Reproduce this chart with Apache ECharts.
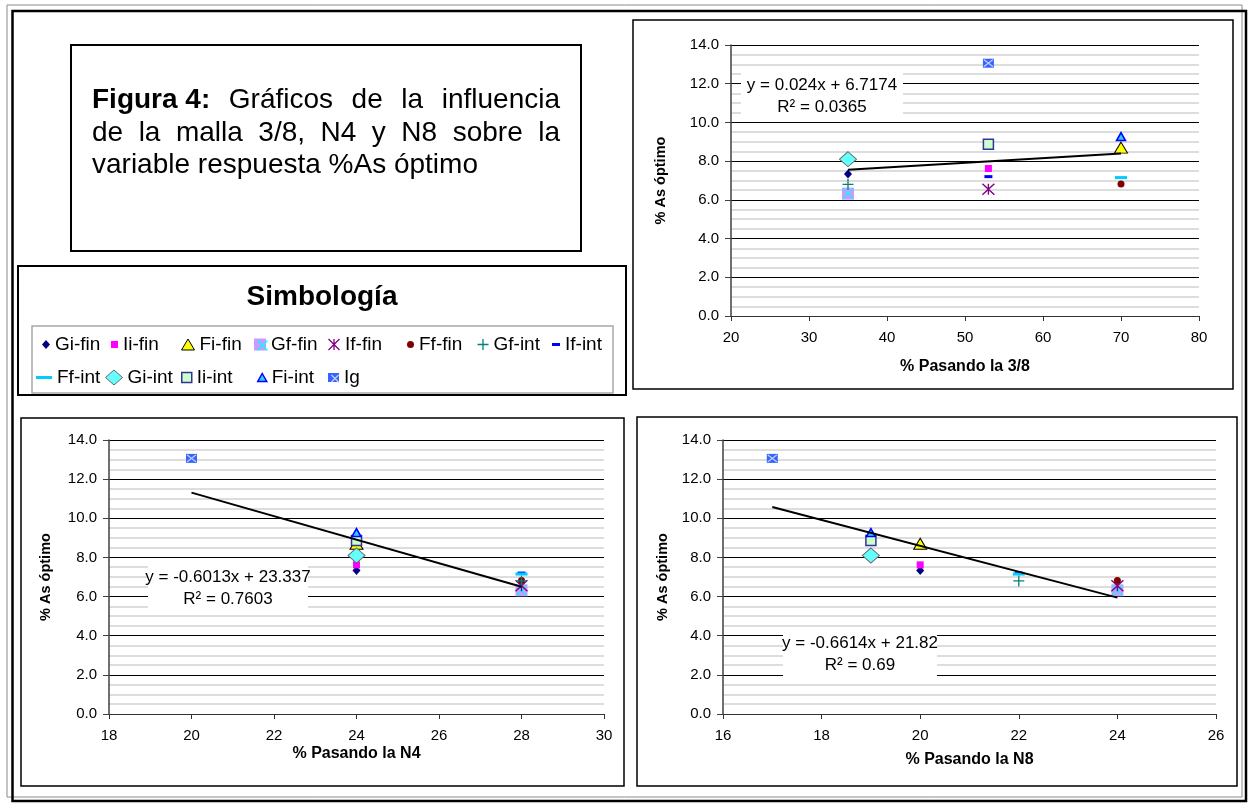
<!DOCTYPE html>
<html>
<head>
<meta charset="utf-8">
<title>Figura 4</title>
<script src="https://cdn.jsdelivr.net/npm/echarts@6/dist/echarts.min.js"></script>
<style>
html,body{margin:0;padding:0;background:#fff}
#main{width:1249px;height:804px}
</style>
</head>
<body>
<div id="main"></div>
<script>
// muestras (una serie por muestra)
var nombres = ['Gi-fin','Ii-fin','Fi-fin','Gf-fin','If-fin','Ff-fin','Gf-int','If-int','Ff-int','Gi-int','Ii-int','Fi-int','Ig'];
// % pasando cada malla
var pasa38 = [35,53,70,35,53,70,35,53,70,35,53,70,53];
var pasaN4 = [24,24,24,28,28,28,28,28,28,24,24,24,20];
var pasaN8 = [20,20,20,24,24,24,22,22,22,19,19,19,17];
// % As optimo
var asOptimo = [7.33,7.62,8.7,6.32,6.55,6.82,6.8,7.2,7.15,8.1,8.87,9.27,13.06];
// lineas de tendencia de cada grafico
var pendientes = [0.024,-0.6013,-0.6614];
var interceptos = [6.7174,23.337,21.82];
var r2 = [0.0365,0.7603,0.69];
// ejes
var xMin = [20,18,16];
var xMax = [80,30,26];
var xPaso = [10,2,2];
var xNombres = ['% Pasando la 3/8','% Pasando la N4','% Pasando la N8'];
var yNombre = '% As óptimo';

var fuente = '"Liberation Sans", Arial, sans-serif';
var pasas = [pasa38,pasaN4,pasaN8];
var simboloX = 'path://M0,0L10,10M10,0L0,10';

//estilo de cada marcador
var estilos = [
    {symbol:'diamond', size:[8,9], color:'#000080'},
    {symbol:'rect', size:[7,7], color:'#FF00FF'},
    {symbol:'triangle', size:[13,11], color:'#FFFF00', border:'#000', bw:1},
    {symbol:'rect', size:[12,12], color:'#CC99FF', cruz:'#00FFFF'},
    {symbol:'path://M0,0L10,10M10,0L0,10M5,0L5,10', size:[12,11], color:'none', border:'#800080', bw:1.3},
    {symbol:'circle', size:[7,7], color:'#800000'},
    {symbol:'path://M5,0L5,10M0,5L10,5', size:[11,11], color:'none', border:'#008080', bw:1.3},
    {symbol:'rect', size:[8,3], color:'#0000FF'},
    {symbol:'rect', size:[12,3], color:'#00CCFF', leg:[16,3]},
    {symbol:'diamond', size:[17,15], color:'#66FFFF', border:'#666', bw:1},
    {symbol:'rect', size:[10,10], color:'#CCFFCC', border:'#333399', bw:1.5},
    {symbol:'triangle', size:[9,8], color:'#33CCFF', border:'#0000FF', bw:1.5},
    {symbol:'rect', size:[11,9], color:'#3366FF', cruz:'#CCCCFF'}
];

var grids = [
    {left:731, top:45, width:468, height:271},
    {left:109, top:440, width:495, height:274},
    {left:723, top:440, width:493, height:274}
];
var xNameGap = [43,32,38];
var yNameGap = [63,56,53];

var xAxes = [], yAxes = [], series = [];
for (var g=0; g<3; g++){
    xAxes.push({
        gridIndex:g, type:'value', min:xMin[g], max:xMax[g], interval:xPaso[g],
        name:xNombres[g], nameLocation:'middle', nameGap:xNameGap[g],
        nameTextStyle:{fontWeight:'bold', fontSize:16, color:'#000', fontFamily:fuente},
        axisLine:{onZero:false, lineStyle:{color:'#333', width:1}},
        axisTick:{show:true, length:5, lineStyle:{color:'#333'}},
        axisLabel:{fontSize:15, color:'#000', margin:14, fontFamily:fuente},
        splitLine:{show:false}
    });
    yAxes.push({
        gridIndex:g, type:'value', min:0, max:14, interval:2,
        name:yNombre, nameLocation:'middle', nameGap:yNameGap[g], nameRotate:90,
        nameTextStyle:{fontWeight:'bold', fontSize:14.5, color:'#000', fontFamily:fuente},
        axisLine:{show:true, onZero:false, lineStyle:{color:'#404040', width:1.5}},
        axisTick:{show:true, length:6, lineStyle:{color:'#404040'}},
        axisLabel:{fontSize:15, color:'#000', margin:12, fontFamily:fuente, formatter:function(v){return v.toFixed(1)}},
        splitLine:{show:true, lineStyle:{color:'#000', width:1}},
        minorTick:{show:false, splitNumber:4},
        minorSplitLine:{show:true, lineStyle:{color:'#d2d2d2', width:1.5}}
    });
    for (var i=0;i<nombres.length;i++){
        var e = estilos[i];
        var punto = [[pasas[g][i], asOptimo[i]]];
        series.push({
            type:'scatter', name:nombres[i], xAxisIndex:g, yAxisIndex:g,
            symbol:e.symbol, symbolSize:e.size, silent:true,
            itemStyle:{color:e.color, borderColor:e.border||'transparent', borderWidth:e.bw||0, opacity:1},
            data:punto
        });
        if (e.cruz){
            series.push({
                type:'scatter', name:nombres[i]+' x', xAxisIndex:g, yAxisIndex:g,
                symbol:simboloX, symbolSize:[e.size[0]-2,e.size[1]-2], silent:true,
                itemStyle:{color:'none', borderColor:e.cruz, borderWidth:1.3, opacity:1},
                data:punto
            });
        }
    }
    // tendencia lineal
    var x1 = Math.min.apply(null,pasas[g]), x2 = Math.max.apply(null,pasas[g]);
    series.push({
        type:'line', name:'tendencia', xAxisIndex:g, yAxisIndex:g, symbol:'none', silent:true, z:3,
        lineStyle:{color:'#000', width:2},
        data:[[x1, pendientes[g]*x1+interceptos[g]],[x2, pendientes[g]*x2+interceptos[g]]]
    });
}

// leyenda (simbologia)
var legX = [55,123,199,271,343,419,491,565, 57,127,196,271,344];
var legFila = [0,0,0,0,0,0,0,0,1,1,1,1,1];
var filaY = [343,376];
var legendas = [];
nombres.forEach(function(n,i){
    var e = estilos[i];
    var s = e.leg || e.size;
    var izq = legX[i]-5-s[0];
    legendas.push({
        data:[{name:n, icon:e.symbol, itemStyle:{color:e.color, borderColor:e.border||'transparent', borderWidth:e.bw||0}}],
        left:izq, top:filaY[legFila[i]]-8, itemWidth:s[0], itemHeight:s[1],
        padding:0, selectedMode:false,
        textStyle:{fontSize:19, color:'#000', fontFamily:fuente}
    });
    // la cruz encima del cuadrado
    if (e.cruz){
        legendas.push({
            data:[{name:n+' x', icon:simboloX, itemStyle:{color:'none', borderColor:e.cruz, borderWidth:1.3}}],
            left:izq+1, top:filaY[legFila[i]]-(s[1]-2)/2, itemWidth:s[0]-2, itemHeight:s[1]-2,
            padding:0, selectedMode:false, formatter:function(){return ''},
            textStyle:{fontSize:1}
        });
    }
});

// graficos de marco y textos
function marco(x,y,w,h,color,lw){
    return {type:'rect', z:50, shape:{x:x,y:y,width:w,height:h}, style:{fill:'none', stroke:color, lineWidth:lw}, silent:true};
}
function texto(t,x,y,size,peso,alin){
    return {type:'text', z:60, x:x, y:y, silent:true,
        style:{text:t, fontSize:size, fontWeight:peso||'normal', fontFamily:fuente, fill:'#000', align:alin||'left', verticalAlign:'middle'}};
}
var graficos = [
    marco(7,5,1235,792,'#8a8a8a',1),
    marco(12.5,11,1233.5,790,'#000',2.5),
    marco(71,45,510,206,'#000',2),
    marco(18,266,608,129,'#000',2),
    marco(32,326,581,67,'#a8a8a8',1.5),
    marco(633,20,600,369,'#000',1.5),
    marco(21,418,603,368,'#000',1.5),
    marco(637,417,600,369,'#000',1.5),
    texto('Simbología',322,297,28,'bold','center')
];

// titulo justificado
var ctx = document.createElement('canvas').getContext('2d');
function ancho(t,size,peso){ ctx.font=(peso||'normal')+' '+size+'px '+fuente; return ctx.measureText(t).width; }
var tamTit = 28;
var lineas = [
    [['Figura 4:','bold'],['Gráficos'],['de'],['la'],['influencia']],
    [['de'],['la'],['malla'],['3/8,'],['N4'],['y'],['N8'],['sobre'],['la']]
];
var lineaY = [100,133,165];
lineas.forEach(function(pal,k){
    var total = 0;
    pal.forEach(function(p){ total += ancho(p[0],tamTit,p[1]); });
    var hueco = (560-92-total)/(pal.length-1);
    var x = 92;
    pal.forEach(function(p){
        graficos.push(texto(p[0],x,lineaY[k],tamTit,p[1]||'normal'));
        x += ancho(p[0],tamTit,p[1]) + hueco;
    });
});
graficos.push(texto('variable respuesta %As óptimo',92,lineaY[2],tamTit));

// cuadros de ecuacion de tendencia
var cajas = [[741,71,162,50],[148,563,160,50],[783,630,154,48]];
cajas.forEach(function(c,g){
    var b = interceptos[g] >= 0 ? ' + '+interceptos[g] : ' - '+Math.abs(interceptos[g]);
    graficos.push({type:'rect', z:40, silent:true, shape:{x:c[0],y:c[1],width:c[2],height:c[3]}, style:{fill:'#fff'}});
    graficos.push(texto('y = '+pendientes[g]+'x'+b, c[0]+c[2]/2, c[1]+c[3]/2-11, 17, 'normal','center'));
    graficos.push(texto('R² = '+r2[g], c[0]+c[2]/2, c[1]+c[3]/2+11, 17, 'normal','center'));
});

var chart = echarts.init(document.getElementById('main'));
chart.setOption({
    animation:false,
    backgroundColor:'#fff',
    textStyle:{fontFamily:fuente},
    grid:grids,
    xAxis:xAxes,
    yAxis:yAxes,
    legend:legendas,
    graphic:graficos,
    series:series
});
</script>
</body>
</html>
